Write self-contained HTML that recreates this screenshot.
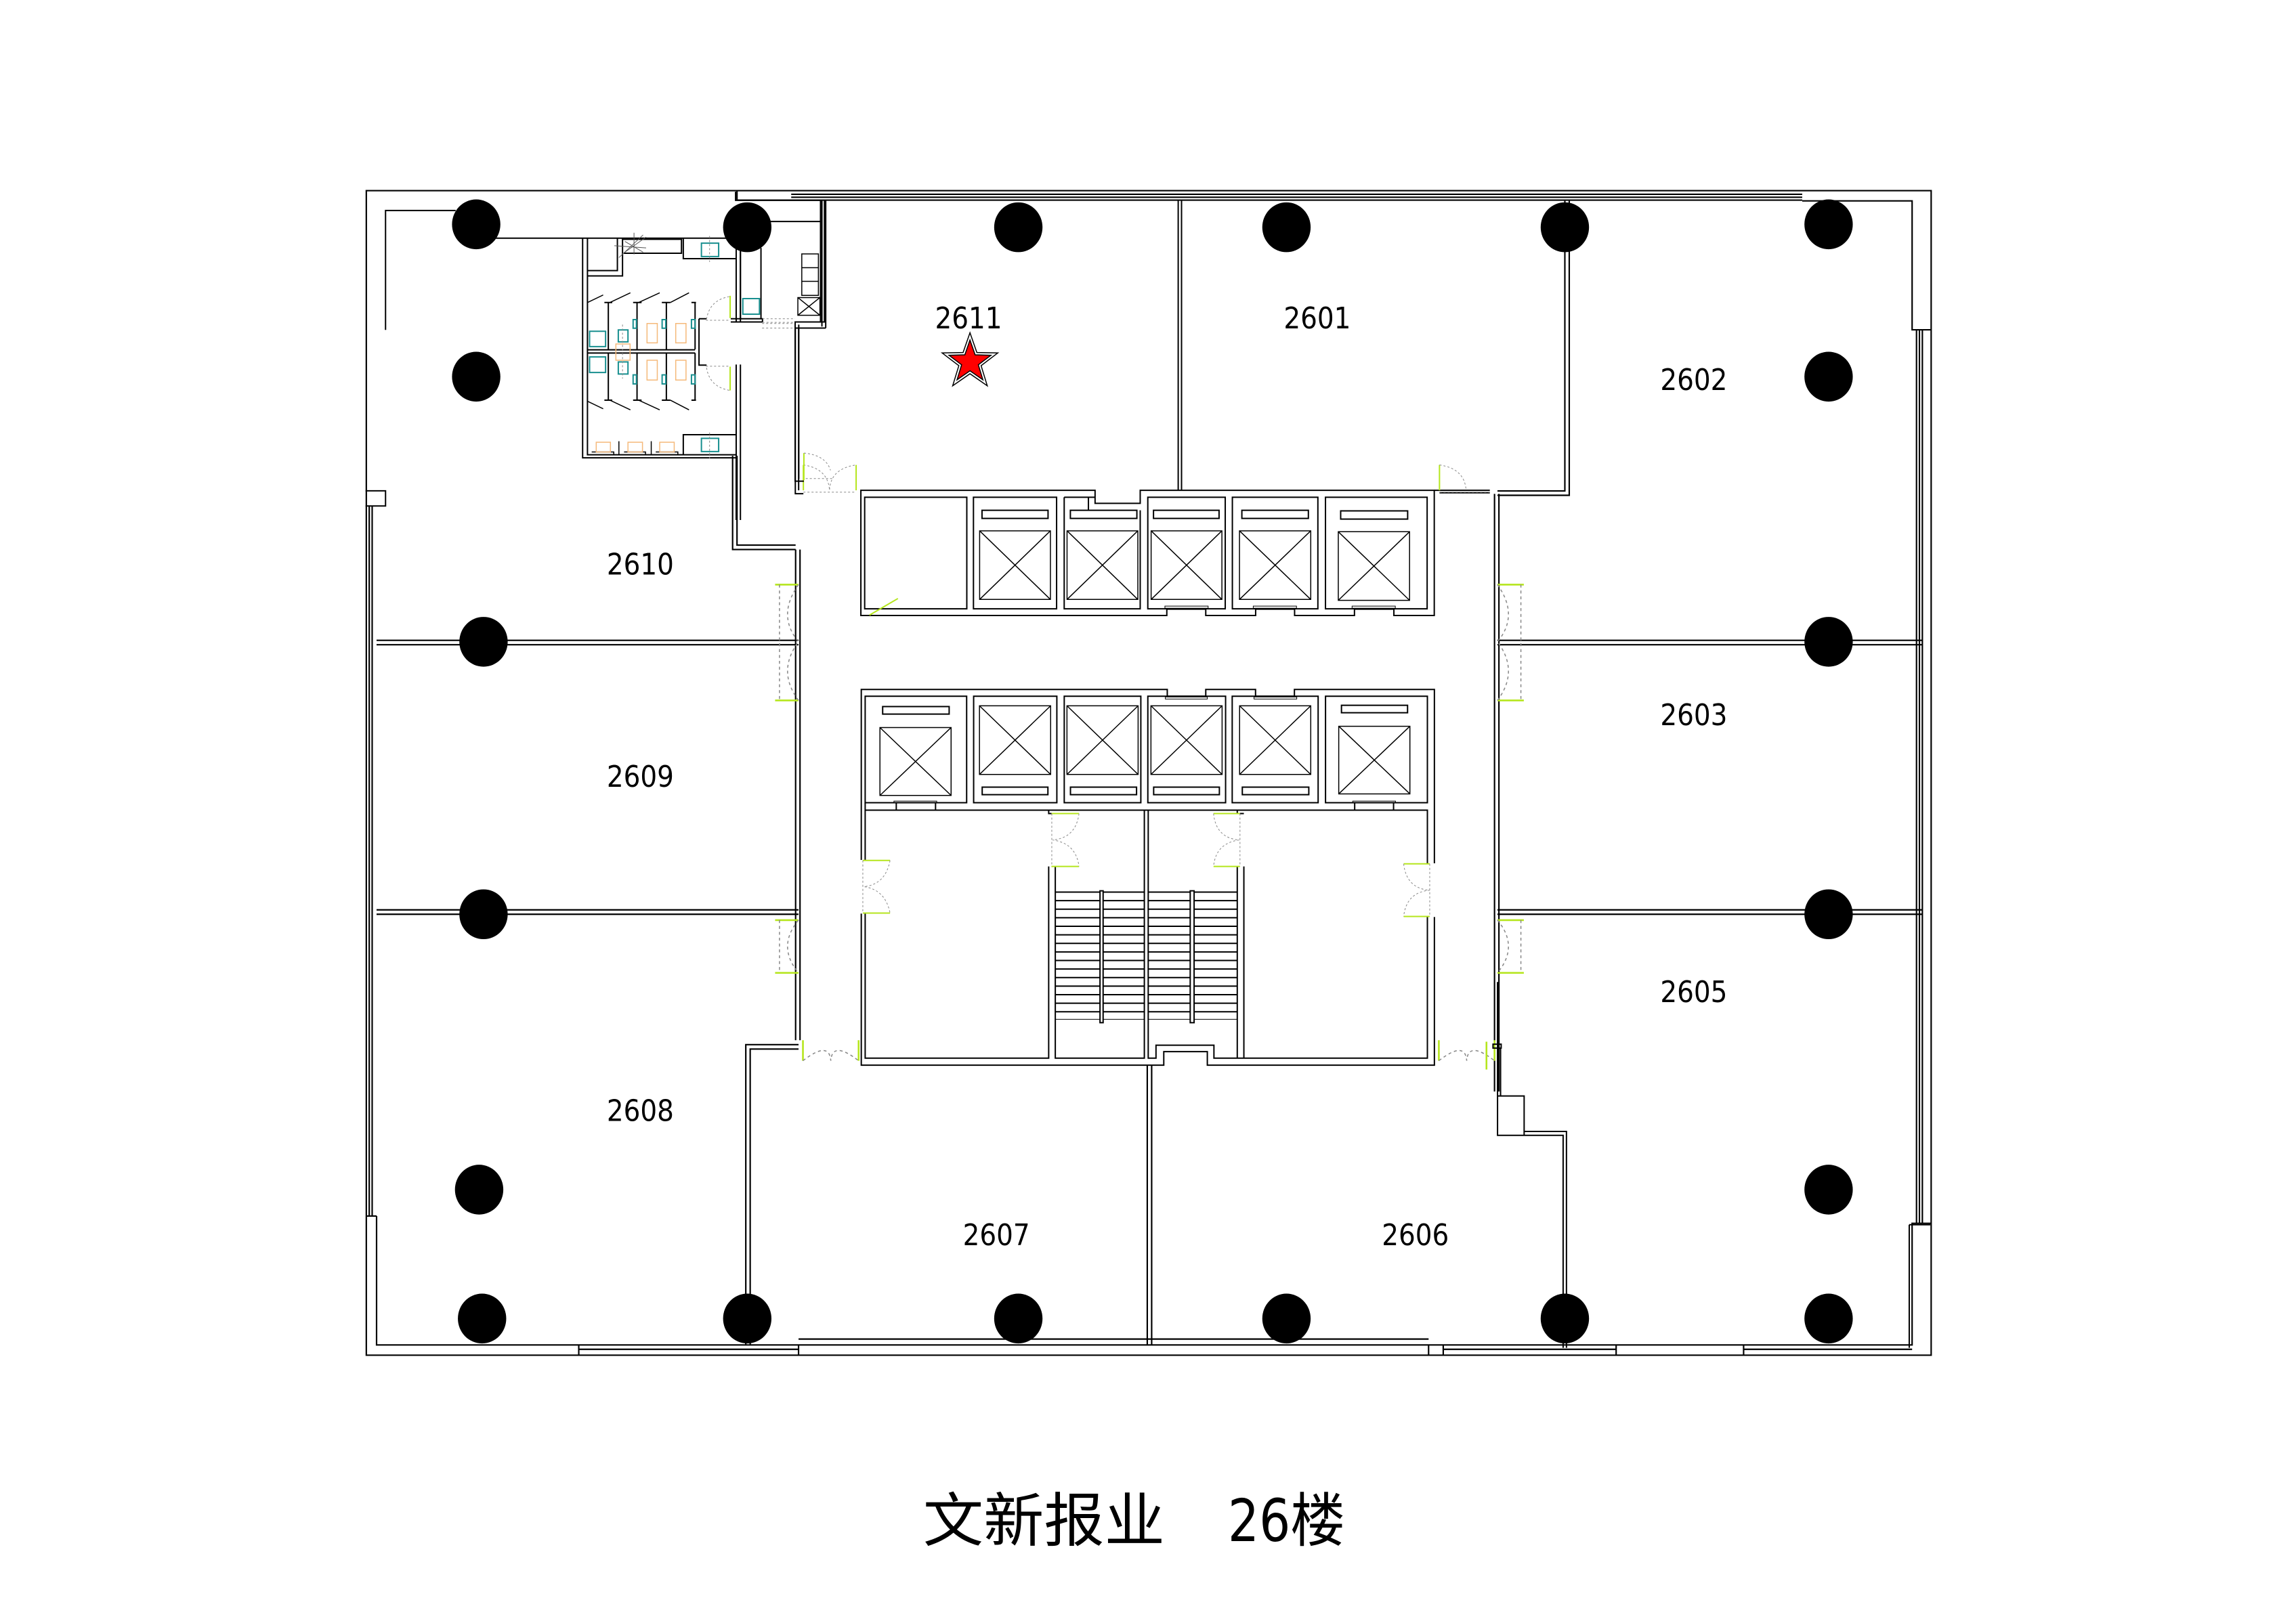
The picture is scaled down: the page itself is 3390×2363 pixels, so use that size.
<!DOCTYPE html>
<html><head><meta charset="utf-8"><style>
html,body{margin:0;padding:0;background:#fff;}
svg{display:block;}
.t{font-family:"DejaVu Sans Condensed","DejaVu Sans","Liberation Sans",sans-serif;font-size:20px;fill:#000;text-anchor:middle;}
</style></head><body>
<svg width="3390" height="2363" viewBox="0 0 1567 1092" xmlns="http://www.w3.org/2000/svg">
<rect width="1567" height="1092" fill="#fff"/>
<g fill="none" stroke="#000" stroke-width="1">
<!-- outer building -->
<path d="M250 130 H1318 V925 H250 Z"/>
<path d="M540 132.5 H1230 M540 134.5 H1230 M562 136.5 H1230 M503 130 V136.5 H562"/>
<path d="M257 830 V918 H1305 V835 H1318"/>
<path d="M252 345 V830 M254 345 V830 M257 830 H250"/>
<path d="M1230 137 H1305 V225 H1318 M1308 225 V835 M1310 225 V835 M1312 225 V835"/>
<path d="M395 918 V925 M545 918 V925 M975 918 V925 M985 918 V925 M1103 918 V925 M1190 918 V925"/>
<path d="M395 921 H545 M985 921 H1103 M1190 921 H1305 M545 914 H975"/>
<!-- partitions -->
<path d="M257 437 H545 M257 440 H545 M1022 437 H1312 M1022 440 H1312"/>
<path d="M257 621 H545 M257 624 H545 M1022 621 H1312 M1022 624 H1312"/>
<path d="M543 375 V710 M546 375 V710"/>
<path d="M1020 337 V745 M1023 337 V745"/>
<path d="M500 311 V375 H543 M503 311 V372 H543"/>
<path d="M509 918 V713 H545 M512 918 V716 H545"/>
<path d="M783 727 V918 M786 727 V918"/>
<path d="M1068 137 V335 H1022 M1071 137 V338 H1022"/>
</g>
<!-- doors lime + dashed -->
<g stroke="#b5e61d" stroke-width="1.2" fill="none">
<path d="M529 399 H545 M529 478 H545 M529 628 H545 M529 664 H545"/>
<path d="M1022 399 H1040 M1022 478 H1040 M1022 628 H1040 M1022 664 H1040"/>
<path d="M548 710 V724 M586 710 V724 M982 710 V724 M1020 710 V724"/>
</g>
<g stroke="#888" stroke-width="0.7" fill="none" stroke-dasharray="2 2">
<path d="M532 399 V478 M532 628 V664 M1038 399 V478 M1038 628 V664"/>
<path d="M545 399 Q530 420 545 438 Q530 458 545 478 M545 628 Q530 646 545 664"/>
<path d="M1022 399 Q1037 420 1022 438 Q1037 458 1022 478 M1022 628 Q1037 646 1022 664"/>
<path d="M548 724 Q566 710 567 724 Q568 710 586 724 M982 724 Q1000 710 1001 724 Q1002 710 1020 724"/>
</g>

<!-- zoom1 group: upper core + 2611 -->
<g transform="scale(1.0044) translate(506.2,115.0) scale(0.3228,0.2054)" fill="none" stroke="#000">
<path vector-effect="non-scaling-stroke" stroke-width="2" d="M912 103 V1062 M919 103 V1062"/>
<path vector-effect="non-scaling-stroke" stroke-width="2" d="M162 103 V520 M170 103 V525 M106 525 V1073 H123 M113 525 V1062 M106 525 H170"/>
<path vector-effect="non-scaling-stroke" stroke-width="2" d="M1451 1062 H1568 M1462 1070 H1568"/>
<path vector-effect="non-scaling-stroke" stroke-width="2" d="M244 1062 H737 V1105 H832 V1062 H1451 V1476 H1366 V1455 H1283 V1476 H1157 V1455 H1075 V1476 H970 V1455 H888 V1476 H244 Z"/>
<path vector-effect="non-scaling-stroke" stroke-width="2" d="M252 1085 H467 V1454 H252 Z M481 1085 H656 V1454 H481 Z M672 1085 H723 V1128 M723 1085 H737 M672 1085 V1454 H832 V1128 M848 1085 H1011 V1454 H848 Z M1026 1085 H1206 V1454 H1026 Z M1222 1085 H1436 V1454 H1222 Z"/>
<path vector-effect="non-scaling-stroke" stroke-width="2" d="M499 1128 H638 V1155 H499 Z M685 1128 H825 V1155 H685 Z M860 1128 H998 V1155 H860 Z M1046 1128 H1186 V1155 H1046 Z M1254 1130 H1395 V1157 H1254 Z"/>
<path vector-effect="non-scaling-stroke" stroke-width="1.5" d="M494 1196 H643 V1423 H494 Z M494 1196 L643 1423 M643 1196 L494 1423 M678 1196 H827 V1423 H678 Z M678 1196 L827 1423 M827 1196 L678 1423 M855 1196 H1004 V1423 H855 Z M855 1196 L1004 1423 M1004 1196 L855 1423 M1041 1196 H1191 V1423 H1041 Z M1041 1196 L1191 1423 M1191 1196 L1041 1423 M1249 1199 H1399 V1426 H1249 Z M1249 1199 L1399 1426 M1399 1199 L1249 1426"/>
<path vector-effect="non-scaling-stroke" stroke-width="1" d="M884 1445 H975 V1452 H884 Z M1070 1445 H1161 V1452 H1070 Z M1278 1445 H1369 V1452 H1278 Z"/>
<path vector-effect="non-scaling-stroke" stroke="#b5e61d" stroke-width="2" d="M123 978 V1062 M234 978 V1062 M1462 978 V1062 M262 1475 L322 1420"/>
<path vector-effect="non-scaling-stroke" stroke="#888" stroke-width="1" stroke-dasharray="3 3" d="M123 1068 H234 M123 978 Q175 990 178 1062 Q180 990 234 978 M1462 1068 H1568 M1462 978 Q1515 990 1518 1062 M36 510 H106 M36 525 H106"/>
</g>

<!-- zoom2 group: toilet block -->
<g transform="scale(1.0044) translate(243.9,124.3) scale(0.2054,0.1468)" fill="none" stroke="#000">
<path vector-effect="non-scaling-stroke" stroke-width="2" d="M88 680 V127 H320 M22 1425 H88 V1495 H22"/>
<path vector-effect="non-scaling-stroke" stroke-width="2" d="M450 255 H1250 M740 255 V1272 H1248 M756 255 V1258 H1248 M1248 255 V640 M1262 300 V640 M1248 840 V1560 M1262 840 V1560 M1125 628 H1150 M1125 628 V843 H1150 M1112 555 V770 M1112 787 V1005"/>
<path vector-effect="non-scaling-stroke" stroke-width="2" d="M1246 40 V80 H1527 V643 M1540 80 V643 H1443 V1380 H1472 M1455 655 V1370 M1230 643 H1335 M1230 628 H1335 V643 M1262 300 V628 M1330 300 V628 M1262 178 H1527"/>
<path vector-effect="non-scaling-stroke" stroke-width="1.5" d="M1465 328 H1520 V520 H1465 Z M1465 392 H1520 M1465 455 H1520 M1452 530 H1525 V612 H1452 Z M1452 530 L1525 612 M1525 530 L1452 612"/>
<path vector-effect="non-scaling-stroke" stroke-width="2" d="M756 405 H855 V255 M756 430 H872 V260 H1067 V325 H876 M1073 255 V350 H1248 M1073 1258 V1165 H1248"/>
<path vector-effect="non-scaling-stroke" stroke-width="2" d="M756 772 H1112 M756 787 H1112 M825 555 V770 M920 555 V770 M1017 555 V770 M825 787 V1005 M920 787 V1005 M1017 787 V1005 M812 553 H838 M907 553 H935 M1002 553 H1030 M1100 553 H1115 M812 1005 H838 M907 1005 H935 M1002 1005 H1030 M1100 1005 H1115"/>
<path vector-effect="non-scaling-stroke" stroke-width="1.5" d="M756 553 L808 518 M830 553 L898 508 M925 553 L995 508 M1030 553 L1092 508 M756 1010 L808 1045 M830 1005 L898 1050 M925 1005 L995 1050 M1030 1005 L1092 1050 M860 1195 V1258 M967 1195 V1258 M770 1245 H843 V1258 M877 1245 H948 V1258 M982 1245 H1055 V1258"/>
<path vector-effect="non-scaling-stroke" stroke="#188f8f" stroke-width="2" d="M763 686 H816 V757 H763 Z M763 805 H816 V877 H763 Z M1133 278 H1190 V340 H1133 Z M1133 1182 H1190 V1243 H1133 Z M1270 535 H1325 V607 H1270 Z M858 680 H890 V735 H858 Z M858 828 H890 V884 H858 Z M907 632 H918 V672 H907 Z M1003 632 H1015 V672 H1003 Z M1100 632 H1112 V672 H1100 Z M907 888 H918 V930 H907 Z M1003 888 H1015 V930 H1003 Z M1100 888 H1112 V930 H1100 Z"/>
<path vector-effect="non-scaling-stroke" stroke="#f5b97a" stroke-width="1.5" d="M953 650 H987 V740 H953 Z M1048 650 H1082 V740 H1048 Z M953 820 H987 V912 H953 Z M1048 820 H1082 V912 H1048 Z M850 745 H897 V820 H850 Z M785 1200 H832 V1245 H785 Z M890 1200 H938 V1245 H890 Z M995 1200 H1043 V1245 H995 Z"/>
<path vector-effect="non-scaling-stroke" stroke="#b5e61d" stroke-width="2" d="M1228 522 V625 M1228 850 V960 M1472 1250 V1375"/>
<path vector-effect="non-scaling-stroke" stroke="#888" stroke-width="1" stroke-dasharray="3 3" d="M1148 635 H1228 M1148 848 H1228 M1150 630 Q1160 540 1228 525 M1150 855 Q1160 945 1228 960 M1335 645 H1443 M1335 628 H1443 M1478 1368 H1568 M1472 1250 Q1545 1260 1560 1330 M1160 245 V365 M1160 1155 V1275 M872 655 V905"/>
<path vector-effect="non-scaling-stroke" stroke="#555" stroke-width="1" d="M845 290 L950 300 M870 330 L950 250 M880 270 L940 320 M910 230 V330 M860 345 L940 240"/>
</g>

<!-- zoom3 group: lower core -->
<g transform="scale(1.0044) translate(575.2,460.2) scale(0.2642,0.1761)" fill="none" stroke="#000">
<path vector-effect="non-scaling-stroke" stroke-width="2" d="M38 705 V47 H825 V73 H924 V47 H1052 V73 H1152 V47 H1512 V718 M1512 925 V1497 H928 V1445 H816 V1497 H38 V912"/>
<path vector-effect="non-scaling-stroke" stroke-width="2" d="M48 73 H309 V484 H48 Z M327 73 H541 V484 H327 Z M560 73 H757 V484 H560 Z M775 73 H975 V484 H775 Z M992 73 H1213 V484 H992 Z M1232 73 H1494 V484 H1232 Z"/>
<path vector-effect="non-scaling-stroke" stroke-width="2" d="M48 484 V705 M48 912 V1470 H520 V730 M48 513 H1494 V718 M1494 925 V1470 H945 V1420 H796 V1470 H776 V513 M766 513 V1470 H537 V730 M1005 730 V1470 H1022 V730 M520 513 V526 H537 M1005 513 V526 H1022"/>
<path vector-effect="non-scaling-stroke" stroke-width="2" d="M93 113 H264 V142 H93 Z M1273 108 H1443 V137 H1273 Z M349 424 H518 V453 H349 Z M576 424 H746 V453 H576 Z M790 424 H959 V453 H790 Z M1018 424 H1189 V453 H1018 Z M128 484 V513 M229 484 V513 M1307 484 V513 M1407 484 V513"/>
<path vector-effect="non-scaling-stroke" stroke-width="1.5" d="M86 194 H269 V456 H86 Z M86 194 L269 456 M269 194 L86 456 M342 110 H525 V375 H342 Z M342 110 L525 375 M525 110 L342 375 M567 110 H750 V375 H567 Z M567 110 L750 375 M750 110 L567 375 M783 110 H966 V375 H783 Z M783 110 L966 375 M966 110 L783 375 M1011 110 H1194 V375 H1011 Z M1011 110 L1194 375 M1194 110 L1011 375 M1266 189 H1449 V450 H1266 Z M1266 189 L1449 450 M1449 189 L1266 450"/>
<path vector-effect="non-scaling-stroke" stroke-width="1" d="M122 478 H232 V484 H122 Z M1302 478 H1412 V484 H1302 Z M820 76 H928 V84 H820 Z M1048 76 H1158 V84 H1048 Z"/>
<path vector-effect="non-scaling-stroke" stroke-width="2" d="M537 829 H766 M537 862 H766 M537 895 H766 M537 928 H766 M537 961 H766 M537 994 H766 M537 1027 H766 M537 1060 H766 M537 1093 H766 M537 1126 H766 M537 1159 H766 M537 1192 H766 M537 1225 H766 M537 1258 H766 M537 1291 H766 M776 829 H1005 M776 862 H1005 M776 895 H1005 M776 928 H1005 M776 961 H1005 M776 994 H1005 M776 1027 H1005 M776 1060 H1005 M776 1093 H1005 M776 1126 H1005 M776 1159 H1005 M776 1192 H1005 M776 1225 H1005 M776 1258 H1005 M776 1291 H1005"/>
<path vector-effect="non-scaling-stroke" stroke-width="1" d="M537 1320 H766 M776 1320 H1005"/>
<path vector-effect="non-scaling-stroke" stroke-width="2" fill="#fff" d="M652 824 H660 V1333 H652 Z M884 824 H894 V1333 H884 Z"/>
<path vector-effect="non-scaling-stroke" stroke="#b5e61d" stroke-width="2" d="M42 707 H112 M42 910 H112 M527 526 H598 M527 730 H598 M944 526 H1012 M944 730 H1012 M1433 720 H1500 M1433 923 H1500"/>
<path vector-effect="non-scaling-stroke" stroke="#888" stroke-width="1" stroke-dasharray="3 3" d="M42 707 V910 M112 707 Q100 800 45 808 Q100 820 112 910 M528 526 V730 M598 526 Q590 620 530 628 Q590 640 598 730 M1012 526 V730 M944 526 Q950 620 1010 628 Q950 640 944 730 M1500 720 V923 M1433 720 Q1440 815 1500 822 Q1440 830 1433 923"/>
</g>

<!-- zoom5 group: right lower -->
<g transform="scale(1.0044) translate(1003.2,667.3) scale(0.2054,0.1761)" fill="none" stroke="#000">
<path vector-effect="non-scaling-stroke" stroke-width="2" d="M287 1412 V592 H158 M298 1412 V577 H158 M70 440 H158 V592 H70 Z M70 440 V0 M80 440 V255 M55 240 H82 V255 H55 Z M1432 937 H1502 M1432 937 V1412"/>
</g>
<g stroke="#b5e61d" stroke-width="1.2"><path d="M1014.5 711 V730"/></g>

<!-- columns -->
<g fill="#000">
<ellipse cx="325" cy="153" rx="16.5" ry="17"/>
<ellipse cx="510" cy="155" rx="16.5" ry="17"/>
<ellipse cx="695" cy="155" rx="16.5" ry="17"/>
<ellipse cx="878" cy="155" rx="16.5" ry="17"/>
<ellipse cx="1068" cy="155" rx="16.5" ry="17"/>
<ellipse cx="1248" cy="153" rx="16.5" ry="17"/>
<ellipse cx="325" cy="257" rx="16.5" ry="17"/>
<ellipse cx="1248" cy="257" rx="16.5" ry="17"/>
<ellipse cx="330" cy="438" rx="16.5" ry="17"/>
<ellipse cx="1248" cy="438" rx="16.5" ry="17"/>
<ellipse cx="330" cy="624" rx="16.5" ry="17"/>
<ellipse cx="1248" cy="624" rx="16.5" ry="17"/>
<ellipse cx="327" cy="812" rx="16.5" ry="17"/>
<ellipse cx="1248" cy="812" rx="16.5" ry="17"/>
<ellipse cx="329" cy="900" rx="16.5" ry="17"/>
<ellipse cx="510" cy="900" rx="16.5" ry="17"/>
<ellipse cx="695" cy="900" rx="16.5" ry="17"/>
<ellipse cx="878" cy="900" rx="16.5" ry="17"/>
<ellipse cx="1068" cy="900" rx="16.5" ry="17"/>
<ellipse cx="1248" cy="900" rx="16.5" ry="17"/>
</g>

<!-- star -->
<g transform="translate(662,247)">
<polygon points="0,-20 4.7,-6.5 19,-6.2 7.6,2.5 11.8,16.2 0,8 -11.8,16.2 -7.6,2.5 -19,-6.2 -4.7,-6.5" fill="none" stroke="#000" stroke-width="0.7"/>
<polygon points="0,-15 3.5,-4.9 14.3,-4.6 5.7,1.9 8.8,12.1 0,6 -8.8,12.1 -5.7,1.9 -14.3,-4.6 -3.5,-4.9" fill="#f00" stroke="#000" stroke-width="0.7"/>
</g>

<!-- labels -->
<text class="t" x="661" y="224">2611</text>
<text class="t" x="899" y="224">2601</text>
<text class="t" x="1156" y="266">2602</text>
<text class="t" x="437" y="392">2610</text>
<text class="t" x="437" y="537">2609</text>
<text class="t" x="1156" y="495">2603</text>
<text class="t" x="1156" y="684">2605</text>
<text class="t" x="437" y="765">2608</text>
<text class="t" x="680" y="850">2607</text>
<text class="t" x="966" y="850">2606</text>

<text x="630" y="1052" font-size="40" textLength="165" lengthAdjust="spacingAndGlyphs" font-family="'Liberation Sans','Noto Sans CJK SC',sans-serif">文新报业</text>
<text x="838" y="1052" font-size="40" textLength="80" lengthAdjust="spacingAndGlyphs" font-family="'DejaVu Sans Condensed','Liberation Sans','Noto Sans CJK SC',sans-serif">26楼</text>
</svg>
</body></html>
